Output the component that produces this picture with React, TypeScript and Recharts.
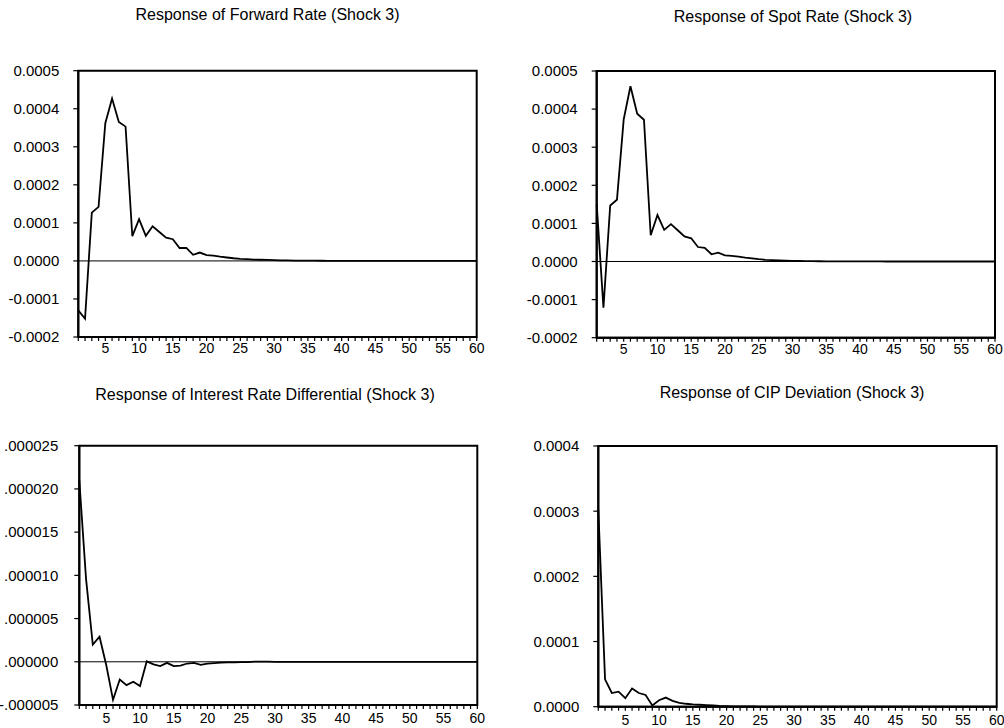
import { Line, LineChart, ReferenceArea, ReferenceLine, XAxis, YAxis } from "recharts";

const FONT = '"Liberation Sans", Arial, sans-serif';

// horizon 1..60
const periods = Array.from({ length: 60 }, (_, i) => i + 1);
const xLabelEvery = 5;

const forwardRate = [
  -1.3e-4, -1.52e-4, 1.27e-4, 1.42e-4, 3.62e-4, 4.27e-4, 3.65e-4, 3.53e-4, 0.65e-4, 1.1e-4,
  0.66e-4, 0.91e-4, 0.76e-4, 0.61e-4, 0.57e-4, 0.34e-4, 0.34e-4, 0.16e-4, 0.22e-4, 0.15e-4,
  0.14e-4, 0.11e-4, 0.09e-4, 0.07e-4, 0.055e-4, 0.045e-4, 0.035e-4, 0.03e-4, 0.025e-4, 0.02e-4,
  0.015e-4, 0.012e-4, 0.01e-4, 0.008e-4, 0.006e-4, 0.005e-4, 0.004e-4, 0.003e-4, 0.002e-4, 0.002e-4,
  0.001e-4, 0.001e-4, 0.001e-4, 0, 0, 0, 0, 0, 0, 0,
  0, 0, 0, 0, 0, 0, 0, 0, 0, 0
];

const spotRate = [
  1.5e-4, -1.21e-4, 1.47e-4, 1.62e-4, 3.73e-4, 4.6e-4, 3.88e-4, 3.72e-4, 0.69e-4, 1.22e-4,
  0.83e-4, 0.98e-4, 0.82e-4, 0.66e-4, 0.61e-4, 0.38e-4, 0.36e-4, 0.19e-4, 0.23e-4, 0.16e-4,
  0.15e-4, 0.13e-4, 0.1e-4, 0.08e-4, 0.06e-4, 0.045e-4, 0.035e-4, 0.028e-4, 0.022e-4, 0.018e-4,
  0.014e-4, 0.011e-4, 0.009e-4, 0.007e-4, 0.005e-4, 0.004e-4, 0.003e-4, 0.003e-4, 0.002e-4, 0.002e-4,
  0.001e-4, 0.001e-4, 0.001e-4, 0, 0, 0, 0, 0, 0, 0,
  0, 0, 0, 0, 0, 0, 0, 0, 0, 0
];

const rateDiff = [
  21.0e-6, 9.6e-6, 2.0e-6, 2.9e-6, -0.4e-6, -4.4e-6, -2.05e-6, -2.7e-6, -2.3e-6, -2.8e-6,
  0.05e-6, -0.3e-6, -0.5e-6, -0.12e-6, -0.5e-6, -0.45e-6, -0.2e-6, -0.12e-6, -0.35e-6, -0.22e-6,
  -0.15e-6, -0.1e-6, -0.08e-6, -0.06e-6, -0.05e-6, -0.03e-6, 0.02e-6, 0.01e-6, 0.01e-6, 0,
  0, 0, 0, 0, 0, 0, 0, 0, 0, 0,
  0, 0, 0, 0, 0, 0, 0, 0, 0, 0,
  0, 0, 0, 0, 0, 0, 0, 0, 0, 0
];

const cipDeviation = [
  3.03e-4, 0.42e-4, 0.21e-4, 0.23e-4, 0.13e-4, 0.28e-4, 0.21e-4, 0.18e-4, 0.02e-4, 0.1e-4,
  0.14e-4, 0.09e-4, 0.06e-4, 0.045e-4, 0.035e-4, 0.03e-4, 0.025e-4, 0.02e-4, 0.012e-4, 0.008e-4,
  0.006e-4, 0.005e-4, 0.004e-4, 0.003e-4, 0.002e-4, 0.002e-4, 0.001e-4, 0.001e-4, 0, 0,
  0, 0, 0, 0, 0, 0, 0, 0, 0, 0,
  0, 0, 0, 0, 0, 0, 0, 0, 0, 0,
  0, 0, 0, 0, 0, 0, 0, 0, 0, 0
];

const rateTicks = [-0.0002, -0.0001, 0, 0.0001, 0.0002, 0.0003, 0.0004, 0.0005];
const diffTicks = [-0.000005, 0, 0.000005, 0.00001, 0.000015, 0.00002, 0.000025];
const cipTicks = [0, 0.0001, 0.0002, 0.0003, 0.0004];

const fmt4 = (v: number) => v.toFixed(4);
// EViews style: drop the leading zero
const fmt6 = (v: number) => v.toFixed(6).replace(/^(-?)0\./, "$1.");

const X_H = 20;

type Rect = { left: number; top: number; width: number; height: number };
type Frame = { x0: number; x1: number; y0: number; y1: number };

function Panel({
  title,
  titleX,
  titleY,
  area,
  frame,
  values,
  yTicks,
  fmt,
  zeroLine,
  yMargin,
  xMargin
}: {
  title: string;
  titleX: number;
  titleY: number;
  area: Rect;
  frame: Frame;
  values: number[];
  yTicks: number[];
  fmt: (v: number) => string;
  zeroLine: boolean;
  yMargin: number;
  xMargin: number;
}) {
  const rows = periods.map((p, i) => ({ period: p, value: values[i] }));
  const yMin = yTicks[0];
  const yMax = yTicks[yTicks.length - 1];
  const tickStyle = { fill: "#000", fontSize: 14, fontFamily: FONT };

  return (
    <>
      <div
        style={{
          position: "absolute",
          left: titleX - 250,
          top: titleY - 9,
          width: 500,
          textAlign: "center",
          fontSize: 16,
          lineHeight: "18px",
          color: "#000"
        }}
      >
        {title}
      </div>
      <div style={{ position: "absolute", left: area.left, top: area.top }}>
        <LineChart
          width={area.width}
          height={area.height}
          data={rows}
          margin={{
            top: frame.y0 - area.top,
            right: area.left + area.width - frame.x1,
            bottom: area.top + area.height - frame.y1 - X_H,
            left: 0
          }}
        >
          <XAxis
            dataKey="period"
            type="number"
            domain={[1, 60]}
            ticks={periods}
            interval={0}
            tickFormatter={(v: number) => (v % xLabelEvery === 0 ? String(v) : "")}
            tickSize={4}
            tickMargin={xMargin}
            height={X_H}
            axisLine={{ stroke: "#000", strokeWidth: 2 }}
            tickLine={{ stroke: "#000", strokeWidth: 1.2 }}
            tick={tickStyle}
          />
          <YAxis
            type="number"
            domain={[yMin, yMax]}
            ticks={yTicks}
            interval={0}
            width={frame.x0 - area.left}
            tickSize={5}
            tickMargin={yMargin}
            tickFormatter={fmt}
            axisLine={{ stroke: "#000", strokeWidth: 2 }}
            tickLine={{ stroke: "#000", strokeWidth: 1.2 }}
            tick={{ ...tickStyle, fontSize: 15 }}
          />
          <ReferenceArea
            x1={1}
            x2={60}
            y1={yMin}
            y2={yMax}
            fill="none"
            stroke="#000"
            strokeWidth={2}
          />
          {zeroLine ? <ReferenceLine y={0} stroke="#000" strokeWidth={1} /> : null}
          <Line
            dataKey="value"
            type="linear"
            stroke="#000"
            strokeWidth={1.8}
            dot={false}
            isAnimationActive={false}
          />
        </LineChart>
      </div>
    </>
  );
}

export default function App() {
  return (
    <div
      style={{
        position: "absolute",
        left: 0,
        top: 0,
        width: 1004,
        height: 728,
        background: "#fff",
        overflow: "hidden",
        fontFamily: FONT
      }}
    >
      <Panel
        title="Response of Forward Rate (Shock 3)"
        titleX={267.5}
        titleY={15}
        area={{ left: 0, top: 40, width: 500, height: 330 }}
        frame={{ x0: 78.3, x1: 476.7, y0: 70.7, y1: 337 }}
        values={forwardRate}
        yTicks={rateTicks}
        fmt={fmt4}
        zeroLine
        yMargin={14}
        xMargin={2}
      />
      <Panel
        title="Response of Spot Rate (Shock 3)"
        titleX={793}
        titleY={16.5}
        area={{ left: 500, top: 40, width: 504, height: 330 }}
        frame={{ x0: 596.7, x1: 995, y0: 71, y1: 337.7 }}
        values={spotRate}
        yTicks={rateTicks}
        fmt={fmt4}
        zeroLine
        yMargin={14}
        xMargin={2}
      />
      <Panel
        title="Response of Interest Rate Differential (Shock 3)"
        titleX={265}
        titleY={395}
        area={{ left: 0, top: 410, width: 500, height: 318 }}
        frame={{ x0: 79.3, x1: 477.3, y0: 445.7, y1: 705 }}
        values={rateDiff}
        yTicks={diffTicks}
        fmt={fmt6}
        zeroLine
        yMargin={16}
        xMargin={4}
      />
      <Panel
        title="Response of CIP Deviation (Shock 3)"
        titleX={792}
        titleY={393}
        area={{ left: 500, top: 410, width: 504, height: 318 }}
        frame={{ x0: 598.3, x1: 996.7, y0: 446, y1: 706.7 }}
        values={cipDeviation}
        yTicks={cipTicks}
        fmt={fmt4}
        zeroLine={false}
        yMargin={14}
        xMargin={4}
      />
    </div>
  );
}
